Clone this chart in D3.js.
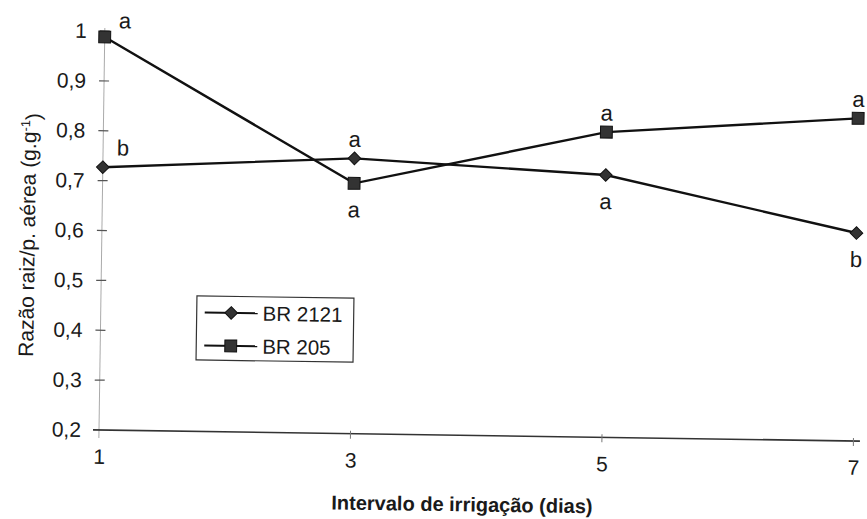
<!DOCTYPE html>
<html>
<head>
<meta charset="utf-8">
<script src="https://cdn.jsdelivr.net/npm/d3@7"></script>
<style>
  html, body { margin: 0; padding: 0; background: #fff; }
  svg { display: block; }
  text { font-family: "Liberation Sans", Arial, sans-serif; fill: #1a1a1a; }
</style>
</head>
<body>
<svg id="chart" width="867" height="519"></svg>
<script>
// ---- data ----
const categories = [1, 3, 5, 7];
const xTickLabels = ["1", "3", "5", "7"];
const yTicks = [0.2, 0.3, 0.4, 0.5, 0.6, 0.7, 0.8, 0.9, 1.0];
const yTickLabels = ["0,2", "0,3", "0,4", "0,5", "0,6", "0,7", "0,8", "0,9", "1"];
const seriesNames = ["BR 2121", "BR 205"];
const valuesBR2121 = [0.727, 0.752, 0.726, 0.617];
const valuesBR205 = [0.988, 0.702, 0.812, 0.847];
const lettersBR2121 = ["b", "a", "a", "b"];
const lettersBR205 = ["a", "a", "a", "a"];
const xTitle = "Intervalo de irrigação (dias)";
const yTitleMain = "Razão raiz/p. aérea (g.g";
const yTitleSup = "-1";

// ---- layout ----
const svg = d3.select("#chart");
const x0 = 99, y0 = 430;
const root = svg.append("g").attr("transform", `rotate(0.834, ${x0}, ${y0})`);

const x = d3.scaleLinear().domain([1, 7]).range([x0, 853.5]);
const y = d3.scaleLinear().domain([0.2, 1.0]).range([y0, 31]);

// y axis (faint line, cross ticks)
root.append("line").attr("x1", x0).attr("x2", x0).attr("y1", 28).attr("y2", y0 + 8)
  .attr("stroke", "#aaa").attr("stroke-width", 1);
const yAxis = d3.axisLeft(y).tickValues(yTicks)
  .tickFormat((d, i) => yTickLabels[i]).tickSize(0).tickPadding(18);
const gy = root.append("g").attr("transform", `translate(${x0},0)`).call(yAxis);
gy.select(".domain").remove();
gy.selectAll("text").style("font-size", "21px").attr("fill", "#1a1a1a");
root.selectAll(".ytick").data(yTicks.slice(1)).enter().append("line")
  .attr("x1", x0 - 5).attr("x2", x0 + 5)
  .attr("y1", d => y(d)).attr("y2", d => y(d))
  .attr("stroke", "#555").attr("stroke-width", 1.2);

// x axis
root.append("line").attr("x1", x0 - 6).attr("x2", 860).attr("y1", y0).attr("y2", y0)
  .attr("stroke", "#333").attr("stroke-width", 1.6);
const xAxis = d3.axisBottom(x).tickValues(categories)
  .tickFormat((d, i) => xTickLabels[i]).tickSize(0).tickPadding(19);
const gx = root.append("g").attr("transform", `translate(0,${y0})`).call(xAxis);
gx.select(".domain").remove();
gx.selectAll("text").style("font-size", "21px").attr("fill", "#1a1a1a");
root.selectAll(".xtick").data(categories.slice(1)).enter().append("line")
  .attr("x1", d => x(d)).attr("x2", d => x(d))
  .attr("y1", y0 - 3).attr("y2", y0 + 5)
  .attr("stroke", "#777").attr("stroke-width", 1);

// titles
root.append("text").attr("x", 463).attr("y", 506).attr("text-anchor", "middle")
  .style("font-size", "20px").style("font-weight", "bold").text(xTitle);
const yt = root.append("text").attr("transform", "translate(32,236) rotate(-90)")
  .attr("text-anchor", "middle").style("font-size", "21px");
yt.append("tspan").text(yTitleMain);
yt.append("tspan").attr("dy", "-0.5em").style("font-size", "13px").text(yTitleSup);
yt.append("tspan").attr("dy", "0.5em").text(")");

// series
const diamond = d3.symbol().type(d3.symbolSquare).size(80);
const square = d3.symbol().type(d3.symbolSquare).size(140);
const series = [
  { name: seriesNames[0], values: valuesBR2121, letters: lettersBR2121, shape: "diamond" },
  { name: seriesNames[1], values: valuesBR205, letters: lettersBR205, shape: "square" }
];
const line = d3.line().x((d, i) => x(categories[i])).y(d => y(d));

function drawMarker(g, shape, cx, cy) {
  if (shape === "diamond") {
    g.append("path").attr("d", diamond())
      .attr("transform", `translate(${cx},${cy}) rotate(45)`)
      .attr("fill", "#333").attr("stroke", "#111").attr("stroke-width", 1);
  } else {
    g.append("path").attr("d", square())
      .attr("transform", `translate(${cx},${cy})`)
      .attr("fill", "#333").attr("stroke", "#111").attr("stroke-width", 1);
  }
}

series.forEach((s) => {
  root.append("path").datum(s.values).attr("d", line)
    .attr("fill", "none").attr("stroke", "#111").attr("stroke-width", 2.4);
});
series.forEach((s, si) => {
  const other = series[1 - si];
  s.values.forEach((v, i) => {
    const cx = x(categories[i]), cy = y(v);
    drawMarker(root, s.shape, cx, cy);
    let lx = cx, ly;
    if (i === 0) {
      lx = cx + 20;
      ly = cy - (s.shape === "diamond" ? 12 : 9);
    } else if (v >= other.values[i]) {
      ly = cy - 11.5;
    } else {
      ly = cy + 34;
    }
    root.append("text").attr("x", lx).attr("y", ly).attr("text-anchor", "middle")
      .style("font-size", "22px").text(s.letters[i]);
  });
});

// legend
const lg = root.append("g");
lg.append("rect").attr("x", 195).attr("y", 294.5).attr("width", 157).attr("height", 64)
  .attr("fill", "#fff").attr("stroke", "#333").attr("stroke-width", 1.2);
series.forEach((s, i) => {
  const ly = 311 + i * 33;
  lg.append("line").attr("x1", 203).attr("x2", 256).attr("y1", ly).attr("y2", ly)
    .attr("stroke", "#111").attr("stroke-width", 2);
  drawMarker(lg, s.shape, 229.5, ly);
  lg.append("text").attr("x", 261).attr("y", ly).attr("dy", "0.36em")
    .style("font-size", "20.5px").text(s.name);
});
</script>
</body>
</html>
